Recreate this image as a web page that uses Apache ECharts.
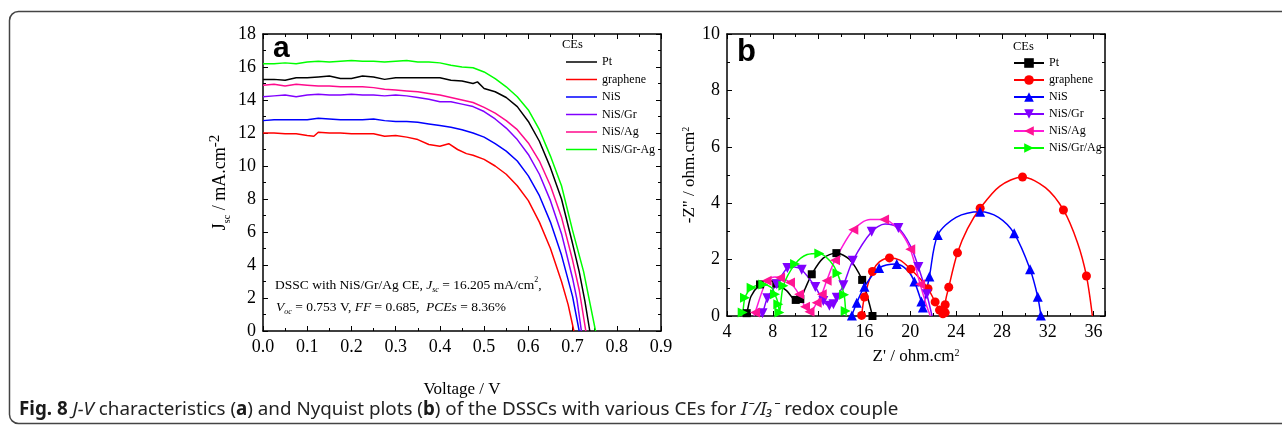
<!DOCTYPE html>
<html><head><meta charset="utf-8">
<script src="https://cdn.jsdelivr.net/npm/echarts@6/dist/echarts.min.js"></script>
<style>html,body{margin:0;padding:0;background:#fff}#c{width:1282px;height:428px}</style>
</head><body><div id="c"></div>
<script>
// ---------- Panel a : J-V curves ----------
const jvNames = ['Pt','graphene','NiS','NiS/Gr','NiS/Ag','NiS/Gr-Ag'];
const jvColors = ['#000000','#ff0000','#0000ff','#8000ff','#ff0a8c','#00ff00'];
const vCommon = [0,0.025,0.05,0.075,0.1,0.125,0.15,0.175,0.2,0.225,0.25,0.275,0.3,0.325,0.35,0.375,0.4,0.425,0.45,0.475,0.5,0.525,0.55,0.575,0.6,0.625,0.65,0.675];
const vPt = [0,.025,.05,.075,.1,.125,.15,.175,.2,.225,.25,.275,.3,.325,.35,.375,.4,.425,.45,.475,.485,.5,.525,.55,.575,.6,.625,.65,.675,.7,.715,.728,.739];
const jPt = [15.25,15.25,15.2,15.35,15.35,15.4,15.45,15.3,15.3,15.45,15.4,15.25,15.35,15.35,15.35,15.35,15.35,15.2,15.15,15.0,15.1,14.7,14.5,14.15,13.6,12.7,11.5,9.9,8.0,5.3,3.6,1.8,0];
const vGraphene = [0,.025,.05,.075,.1,.115,.125,.15,.175,.2,.225,.25,.275,.3,.325,.35,.375,.4,.42,.44,.46,.475,.5,.525,.55,.575,.6,.625,.65,.675,.69,.703];
const jGraphene = [12.0,12.0,11.95,11.95,11.85,11.8,12.05,12.0,12.0,11.95,11.95,11.95,11.8,11.85,11.75,11.6,11.3,11.2,11.35,11.0,10.75,10.65,10.4,10.0,9.5,8.8,7.9,6.6,5.0,3.0,1.6,0];
const vNiS = vCommon.concat([0.7,0.715]);
const jNiS = [12.75,12.8,12.8,12.8,12.8,12.9,12.85,12.8,12.8,12.8,12.85,12.75,12.7,12.7,12.65,12.55,12.45,12.35,12.2,12.0,11.75,11.35,10.9,10.3,9.4,8.2,6.6,4.6,2.1,0];
const vNiSGr = vCommon.concat([0.7,0.71,0.72]);
const jNiSGr = [14.2,14.25,14.3,14.2,14.3,14.35,14.3,14.3,14.35,14.3,14.3,14.25,14.3,14.25,14.15,14.05,13.9,13.9,13.75,13.6,13.3,12.85,12.3,11.6,10.7,9.5,7.9,5.9,3.2,1.9,0];
const vNiSAg = vCommon.concat([0.7,0.715,0.73]);
const jNiSAg = [14.9,14.95,14.85,14.95,14.9,14.85,14.85,14.8,14.8,14.8,14.75,14.65,14.6,14.55,14.5,14.4,14.3,14.15,14.0,13.85,13.55,13.2,12.75,12.2,11.4,10.3,8.8,6.9,4.3,2.5,0];
const vNiSGrAg = vCommon.concat([0.7,0.725,0.74,0.752]);
const jNiSGrAg = [16.2,16.2,16.25,16.2,16.3,16.35,16.3,16.35,16.4,16.35,16.35,16.3,16.35,16.4,16.3,16.3,16.25,16.1,16.0,15.95,15.7,15.3,14.8,14.2,13.4,12.2,10.6,8.8,6.1,3.6,1.6,0];
const jvV = [vPt,vGraphene,vNiS,vNiSGr,vNiSAg,vNiSGrAg];
const jvJ = [jPt,jGraphene,jNiS,jNiSGr,jNiSAg,jNiSGrAg];

// ---------- Panel b : Nyquist plots ----------
const nyNames = ['Pt','graphene','NiS','NiS/Gr','NiS/Ag','NiS/Gr/Ag'];
const nyLineColors = ['#000000','#ff0000','#0000ff','#8000ff','#ff1ad9','#00ff00'];
const nyMarkColors = ['#000000','#ff0000','#0000ff','#8000ff','#ff1493','#00ff00'];
const nySymbols = ['rect','circle','triangle','triangle','triangle','triangle'];
const nyRotate = [0,0,0,180,90,-90];
const zXPt = [5.55,5.72,6.1,6.88,7.6,8.3,9.2,10.0,10.4,10.8,11.4,12.4,13.55,14.7,15.8,16.35,16.7];
const zYPt = [0,0.1,0.7,1.12,1.28,1.15,0.9,0.57,0.6,0.95,1.48,2.05,2.23,2.0,1.28,0.55,0];
const zMPt = [0,1,0,1,0,1,0,1,1,0,1,0,1,0,1,0,1];
const zXGr = [15.75,16.0,16.7,17.3,18.18,19.1,20.04,20.9,21.55,22.17,22.55,22.85,23.05,23.05,23.36,24.12,25.0,26.1,27.8,29.8,31.8,33.37,34.6,35.38,35.9];
const zYGr = [0.02,0.67,1.58,1.92,2.06,1.98,1.66,1.3,0.97,0.5,0.21,0.08,0.12,0.4,1.02,2.24,3.1,3.82,4.6,4.93,4.55,3.76,2.6,1.42,0];
const zMGr = [1,1,1,0,1,0,1,0,1,1,1,1,1,1,1,1,0,1,0,1,0,1,0,1,0];
const zXNiS = [14.9,15.33,16.0,17.28,18.82,19.8,20.36,20.97,21.1,21.25,21.67,22.4,24.0,26.1,27.7,29.07,30.46,31.13,31.4];
const zYNiS = [0.02,0.47,1.04,1.7,1.84,1.6,1.22,0.51,0.3,0.55,1.4,2.87,3.5,3.7,3.5,2.93,1.66,0.68,0.02];
const zMNiS = [1,1,1,1,1,0,1,1,1,0,1,1,0,1,0,1,1,1,1];
const zXNiSGr = [6.9,7.1,7.52,8.34,9.27,9.9,10.52,11.71,12.41,12.94,13.29,13.58,14.16,14.98,16.63,17.8,18.96,20.0,20.71,21.44,21.9];
const zYNiSGr = [0,0.1,0.63,1.13,1.7,1.74,1.64,1.03,0.53,0.36,0.42,0.65,1.09,1.96,2.99,3.26,3.12,2.5,1.74,0.77,0];
const zMNiSGr = [0,1,1,1,1,0,1,1,1,1,1,1,1,1,1,0,1,0,1,1,0];
const zXNiSAg = [6.35,6.45,7.46,8.2,8.63,9.5,10.29,10.81,11.2,11.6,11.83,12.27,12.7,13.43,15.03,16.5,17.71,19.0,20.0,20.86,21.4,21.75];
const zYNiSAg = [0,0.12,1.25,1.38,1.36,1.19,0.77,0.33,0.15,0.3,0.47,0.77,1.25,1.98,3.06,3.42,3.42,3.05,2.37,1.13,0.4,0];
const zMNiSAg = [0,1,1,0,1,1,1,1,1,0,1,1,1,1,1,0,1,0,1,1,0,0];
const zXNiSGrAg = [5.2,5.37,5.57,6.15,7.17,7.9,8.19,8.48,8.57,8.92,9.94,11.0,12.06,13.0,13.64,14.22,14.36,14.42];
const zYNiSGrAg = [0,0.12,0.65,1.0,1.12,1.0,0.77,0.42,0.12,1.07,1.84,2.18,2.22,1.95,1.52,0.75,0.18,0];
const zMNiSGrAg = [0,1,1,1,1,0,1,1,1,1,1,0,1,0,1,1,1,0];
const nyX = [zXPt,zXGr,zXNiS,zXNiSGr,zXNiSAg,zXNiSGrAg];
const nyY = [zYPt,zYGr,zYNiS,zYNiSGr,zYNiSAg,zYNiSGrAg];
const nyM = [zMPt,zMGr,zMNiS,zMNiSGr,zMNiSAg,zMNiSGrAg];

const SERIF = 'Liberation Serif';
const chart = echarts.init(document.getElementById('c'), null, {renderer:'canvas'});

function axisCommon(extra){
  return Object.assign({
    type:'value', splitLine:{show:false},
    axisLine:{show:true,onZero:false,lineStyle:{color:'#000',width:1.5}},
    axisTick:{show:true,inside:true,length:5,lineStyle:{color:'#000',width:1}},
    minorTick:{show:true,splitNumber:2,length:3,lineStyle:{color:'#000',width:1}},
    axisLabel:{color:'#000',fontFamily:SERIF,fontSize:18,margin:7},
    nameTextStyle:{color:'#000',fontFamily:SERIF,fontSize:17}
  }, extra);
}
function frameAxis(extra){
  return Object.assign(axisCommon({}), {axisLabel:{show:false}}, extra);
}

const series = [];
jvNames.forEach((n,i)=>{
  series.push({
    name:n, type:'line', xAxisIndex:0, yAxisIndex:0, symbol:'none', showSymbol:false,
    lineStyle:{color:jvColors[i],width:1.5}, itemStyle:{color:jvColors[i]},
    data: jvV[i].map((v,k)=>[v, jvJ[i][k]]), z:10-i
  });
});
nyNames.forEach((n,i)=>{
  series.push({
    name:'b:'+n, type:'line', xAxisIndex:2, yAxisIndex:2, smooth:0.3,
    symbol:nySymbols[i], symbolSize: nySymbols[i]==='rect'?8:(nySymbols[i]==='circle'?9:10),
    symbolRotate:nyRotate[i], showAllSymbol:true,
    lineStyle:{color:nyLineColors[i],width:1.5}, itemStyle:{color:nyMarkColors[i]},
    data: nyX[i].map((x,k)=> nyM[i][k] ? {value:[x, nyY[i][k]]} : {value:[x, nyY[i][k]], symbol:'none'}),
    z:10
  });
});

const legendText = {color:'#000',fontFamily:SERIF,fontSize:12};
const option = {
  animation:false,
  backgroundColor:'#fff',
  grid:[
    {left:263, top:34, width:398, height:297},
    {left:727, top:34, width:378, height:282}
  ],
  xAxis:[
    axisCommon({gridIndex:0, min:0, max:0.9, interval:0.1, name:'Voltage / V', nameLocation:'middle', nameGap:50,
      axisLabel:{color:'#000',fontFamily:SERIF,fontSize:18,margin:7,formatter:v=>v.toFixed(1)}}),
    frameAxis({gridIndex:0, position:'top', min:0, max:0.9, interval:0.1}),
    axisCommon({gridIndex:1, min:4, max:37, interval:4, name:"Z' / ohm.cm{p|2}", nameLocation:'middle', nameGap:32,
      axisLabel:{color:'#000',fontFamily:SERIF,fontSize:18,margin:7,formatter:v=> v>36.5?'':String(v)},
      nameTextStyle:{color:'#000',fontFamily:SERIF,fontSize:17,rich:{p:{fontFamily:SERIF,fontSize:10,lineHeight:6,verticalAlign:'top'}}}}),
    frameAxis({gridIndex:1, position:'top', min:4, max:37, interval:4})
  ],
  yAxis:[
    axisCommon({gridIndex:0, min:0, max:18, interval:2, name:'{m|J}{s|sc}{m| / mA.cm}{p|-2}', nameLocation:'middle', nameGap:31,
      nameTextStyle:{color:'#000',fontFamily:SERIF,fontSize:18,rich:{
        m:{fontFamily:SERIF,fontSize:18,lineHeight:24,color:'#000'},
        s:{fontFamily:SERIF,fontSize:10,lineHeight:8,verticalAlign:'bottom',color:'#000'},
        p:{fontFamily:SERIF,fontSize:15,lineHeight:6,verticalAlign:'top',color:'#000'}}}}),
    frameAxis({gridIndex:0, position:'right', min:0, max:18, interval:2}),
    axisCommon({gridIndex:1, min:0, max:10, interval:2, name:'-Z" / ohm.cm{p|2}', nameLocation:'middle', nameGap:23,
      nameTextStyle:{color:'#000',fontFamily:SERIF,fontSize:17,rich:{
        p:{fontFamily:SERIF,fontSize:10,lineHeight:6,verticalAlign:'top',color:'#000'}}}}),
    frameAxis({gridIndex:1, position:'right', min:0, max:10, interval:2})
  ],
  legend:[
    {data:jvNames, orient:'vertical', left:566, top:56, padding:0, itemWidth:31, itemHeight:12, itemGap:5.5,
     icon:'path://M0,0 L31,0 L31,1.5 L0,1.5 Z',
     textStyle:legendText, selectedMode:false},
    {data:nyNames.map(n=>'b:'+n), orient:'vertical', left:1013, top:57, padding:0, itemWidth:30, itemHeight:12, itemGap:5,
     textStyle:legendText, selectedMode:false, formatter:n=>n.slice(2)}
  ],
  series: series,
  graphic:[
    {type:'rect', shape:{x:9.5,y:11.5,width:1300,height:412,r:9}, style:{fill:'none',stroke:'#444',lineWidth:1.5}, silent:true},
    {type:'text', x:273, y:49, style:{text:'a', fontFamily:'Liberation Sans', fontSize:30, fontWeight:'bold', fill:'#000', verticalAlign:'middle'}},
    {type:'text', x:737, y:52, style:{text:'b', fontFamily:'Liberation Sans', fontSize:31, fontWeight:'bold', fill:'#000', verticalAlign:'middle'}},
    {type:'text', x:562, y:45, style:{text:'CEs', fontFamily:SERIF, fontSize:12.5, fill:'#000', verticalAlign:'middle'}},
    {type:'text', x:1013, y:47, style:{text:'CEs', fontFamily:SERIF, fontSize:12.5, fill:'#000', verticalAlign:'middle'}},
    {type:'text', x:275, y:285, style:{
      text:'{n|DSSC with NiS/Gr/Ag CE, }{i|J}{s|sc}{n| = 16.205 mA/cm}{p|2}{n|,}',
      fontFamily:SERIF, fontSize:13, fill:'#000', verticalAlign:'middle',
      rich:{n:{fontFamily:SERIF,fontSize:13.5,lineHeight:18,fill:'#000'},
            i:{fontFamily:SERIF,fontSize:13.5,fontStyle:'italic',lineHeight:18,fill:'#000'},
            s:{fontFamily:SERIF,fontSize:8,fontStyle:'italic',lineHeight:6,verticalAlign:'bottom',fill:'#000'},
            p:{fontFamily:SERIF,fontSize:8,lineHeight:6,verticalAlign:'top',fill:'#000'}}}},
    {type:'text', x:276, y:307, style:{
      text:'{i|V}{s|oc}{n| = 0.753 V, }{i|FF}{n| = 0.685,  }{i|PCEs}{n| = 8.36%}',
      fontFamily:SERIF, fontSize:13, fill:'#000', verticalAlign:'middle',
      rich:{n:{fontFamily:SERIF,fontSize:13.5,lineHeight:18,fill:'#000'},
            i:{fontFamily:SERIF,fontSize:13.5,fontStyle:'italic',lineHeight:18,fill:'#000'},
            s:{fontFamily:SERIF,fontSize:8,fontStyle:'italic',lineHeight:6,verticalAlign:'bottom',fill:'#000'}}}},
    {type:'text', x:19, y:410, style:{
      text:'{b|Fig. 8 }{i|J-V}{n| characteristics (}{b|a}{n|) and Nyquist plots (}{b|b}{n|) of the DSSCs with various CEs for }{i|I⁻/I₃⁻}{n| redox couple}',
      fontFamily:'Noto Sans', fontSize:18.8, fill:'#222', verticalAlign:'middle',
      rich:{b:{fontFamily:'Noto Sans',fontSize:18.8,fontWeight:'bold',fill:'#1a1a1a'},
            n:{fontFamily:'Noto Sans',fontSize:18.8,fill:'#222'},
            i:{fontFamily:'Noto Sans',fontSize:18.8,fontStyle:'italic',fill:'#222'}}}}
  ]
};
chart.setOption(option);
</script></body></html>
